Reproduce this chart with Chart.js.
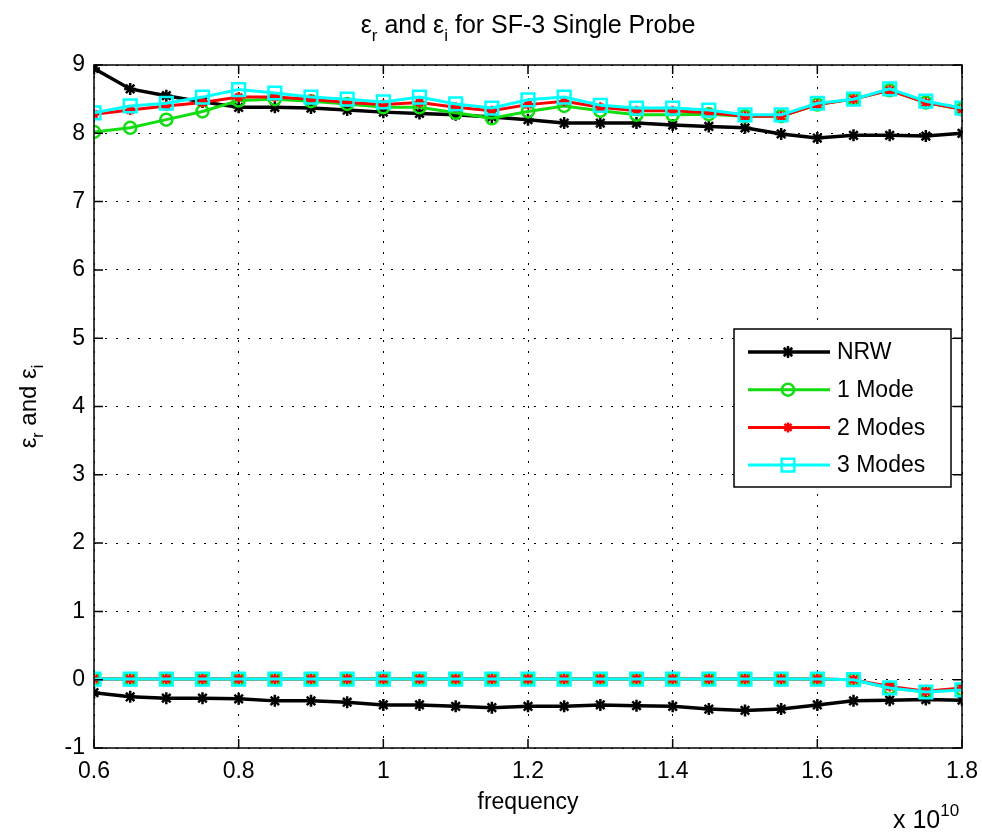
<!DOCTYPE html>
<html>
<head>
<meta charset="utf-8">
<title>SF-3 Single Probe</title>
<script src="https://cdn.jsdelivr.net/npm/chart.js@4.4.1/dist/chart.umd.min.js"></script>
<style>
    html, body { margin: 0; padding: 0; background: #fff; }
    canvas { display: block; }
</style>
</head>
<body>
<canvas id="probeChart" width="982" height="833"></canvas>
<script>
// frequency in units of 1e10 Hz
const frequency = [0.6, 0.65, 0.7, 0.75, 0.8, 0.85, 0.9, 0.95, 1.0, 1.05, 1.1, 1.15, 1.2,
                   1.25, 1.3, 1.35, 1.4, 1.45, 1.5, 1.55, 1.6, 1.65, 1.7, 1.75, 1.8];

// real part (upper curves)
const nrwReal   = [8.95, 8.65, 8.55, 8.46, 8.38, 8.38, 8.37, 8.34, 8.31, 8.29, 8.27, 8.24, 8.2,
                   8.15, 8.15, 8.15, 8.12, 8.1, 8.08, 7.99, 7.93, 7.97, 7.97, 7.96, 8.0];
const mode1Real = [8.02, 8.08, 8.2, 8.32, 8.48, 8.5, 8.47, 8.43, 8.38, 8.38, 8.3, 8.22, 8.32,
                   8.4, 8.33, 8.27, 8.27, 8.28, 8.25, 8.25, 8.42, 8.5, 8.63, 8.45, 8.35];
const mode2Real = [8.28, 8.34, 8.4, 8.45, 8.53, 8.53, 8.5, 8.45, 8.42, 8.45, 8.38, 8.33, 8.42,
                   8.47, 8.38, 8.33, 8.33, 8.3, 8.25, 8.25, 8.42, 8.5, 8.63, 8.45, 8.35];
const mode3Real = [8.3, 8.4, 8.44, 8.53, 8.64, 8.59, 8.53, 8.5, 8.46, 8.53, 8.43, 8.37, 8.49,
                   8.53, 8.41, 8.37, 8.37, 8.34, 8.27, 8.27, 8.44, 8.5, 8.65, 8.47, 8.37];

// imaginary part (lower curves)
const nrwImag   = [-0.19, -0.25, -0.27, -0.27, -0.28, -0.31, -0.31, -0.33, -0.37, -0.37, -0.39, -0.41, -0.39,
                   -0.39, -0.37, -0.38, -0.39, -0.43, -0.45, -0.43, -0.37, -0.31, -0.3, -0.29, -0.3];
const mode1Imag = [0.01, 0.01, 0.01, 0.01, 0.01, 0.01, 0.01, 0.01, 0.01, 0.01, 0.01, 0.01, 0.01,
                   0.01, 0.01, 0.01, 0.01, 0.01, 0.01, 0.01, 0.01, 0.0, -0.12, -0.18, -0.14];
const mode2Imag = [0.01, 0.01, 0.01, 0.01, 0.01, 0.01, 0.01, 0.01, 0.01, 0.01, 0.01, 0.01, 0.01,
                   0.01, 0.01, 0.01, 0.01, 0.01, 0.01, 0.01, 0.01, 0.0, -0.1, -0.17, -0.12];
const mode3Imag = [0.01, 0.01, 0.01, 0.01, 0.01, 0.01, 0.01, 0.01, 0.01, 0.01, 0.01, 0.01, 0.01,
                   0.01, 0.01, 0.01, 0.01, 0.01, 0.01, 0.01, 0.01, 0.0, -0.12, -0.18, -0.15];

const xTicks = { min: 0.6, max: 1.8, step: 0.2 };
const yTicks = { min: -1, max: 9, step: 1 };

const FONT = '"Liberation Sans", Arial, sans-serif';
const FONT_SIZE = 23;

Chart.defaults.font.family = FONT;
Chart.defaults.color = '#000';

function makeSeries(label, values, color, style, radius, width, order, inLegend) {
    return {
        label: label,
        data: frequency.map((f, i) => ({ x: f, y: values[i] })),
        borderColor: color,
        backgroundColor: color,
        borderWidth: width,
        pointStyle: style,
        pointRadius: radius,
        pointBorderColor: color,
        pointBackgroundColor: 'rgba(0,0,0,0)',
        pointBorderWidth: 2.5,
        tension: 0,
        order: order,
        inLegend: inLegend
    };
}

const datasets = [
    makeSeries('NRW', nrwReal, '#000000', 'star', 6, 3.5, 4, true),
    makeSeries('NRW', nrwImag, '#000000', 'star', 6, 3.5, 4, false),
    makeSeries('1 Mode', mode1Real, '#11dd11', 'circle', 6, 3, 3, true),
    makeSeries('1 Mode', mode1Imag, '#11dd11', 'circle', 6, 3, 3, false),
    makeSeries('2 Modes', mode2Real, '#ff0000', 'star', 5, 3, 2, true),
    makeSeries('2 Modes', mode2Imag, '#ff0000', 'star', 5, 3, 2, false),
    makeSeries('3 Modes', mode3Real, '#00ffff', 'rect', 9, 3, 1, true),
    makeSeries('3 Modes', mode3Imag, '#00ffff', 'rect', 9, 3, 1, false)
];

// text with sub/superscripts, centred on (cx, cy)
function drawRich(ctx, parts, cx, cy, size, rot, align) {
    ctx.save();
    ctx.translate(cx, cy);
    ctx.rotate(rot || 0);
    ctx.fillStyle = '#000';
    ctx.textBaseline = 'alphabetic';
    ctx.textAlign = 'left';
    const sizeOf = p => (p.sub || p.sup) ? Math.round(size * 0.68) : size;
    let total = 0;
    parts.forEach(p => {
        ctx.font = sizeOf(p) + 'px ' + FONT;
        total += ctx.measureText(p.t).width;
    });
    let x = align === 'left' ? 0 : -total / 2;
    parts.forEach(p => {
        ctx.font = sizeOf(p) + 'px ' + FONT;
        const dy = p.sub ? size * 0.3 : (p.sup ? -size * 0.5 : 0);
        ctx.fillText(p.t, x, size * 0.36 + dy);
        x += ctx.measureText(p.t).width;
    });
    ctx.restore();
}

// MATLAB style frame: box, inward ticks, legend, title
const matlabFrame = {
    id: 'matlabFrame',
    afterDatasetsDraw(chart) {
        const ctx = chart.ctx;
        const a = chart.chartArea;
        const xs = chart.scales.x, ys = chart.scales.y;
        const tick = 9;

        ctx.save();
        ctx.strokeStyle = '#000';
        ctx.lineWidth = 1.5;
        ctx.beginPath();
        xs.ticks.forEach(t => {
            const px = xs.getPixelForValue(t.value);
            ctx.moveTo(px, a.bottom); ctx.lineTo(px, a.bottom - tick);
            ctx.moveTo(px, a.top); ctx.lineTo(px, a.top + tick);
        });
        ys.ticks.forEach(t => {
            const py = ys.getPixelForValue(t.value);
            ctx.moveTo(a.left, py); ctx.lineTo(a.left + tick, py);
            ctx.moveTo(a.right, py); ctx.lineTo(a.right - tick, py);
        });
        ctx.stroke();
        ctx.strokeRect(a.left, a.top, a.right - a.left, a.bottom - a.top);

        // legend box
        const entries = chart.data.datasets.filter(ds => ds.inLegend);
        const lx = a.right - 228, ly = a.top + 264, lw = 217, lh = 158;
        ctx.fillStyle = '#fff';
        ctx.fillRect(lx, ly, lw, lh);
        ctx.lineWidth = 1.5;
        ctx.strokeStyle = '#000';
        ctx.strokeRect(lx, ly, lw, lh);
        entries.forEach((ds, i) => {
            const cy = ly + 23 + i * 37.7;
            ctx.strokeStyle = ds.borderColor;
            ctx.lineWidth = ds.borderWidth;
            ctx.beginPath();
            ctx.moveTo(lx + 14, cy);
            ctx.lineTo(lx + 96, cy);
            ctx.stroke();
            ctx.fillStyle = 'rgba(0,0,0,0)';
            ctx.lineWidth = ds.pointBorderWidth;
            Chart.helpers.drawPoint(ctx, {
                pointStyle: ds.pointStyle,
                radius: ds.pointRadius,
                rotation: 0,
                borderWidth: ds.pointBorderWidth
            }, lx + 54, cy);
            ctx.fillStyle = '#000';
            ctx.font = FONT_SIZE + 'px ' + FONT;
            ctx.textBaseline = 'middle';
            ctx.textAlign = 'left';
            ctx.fillText(ds.label, lx + 103, cy + 1);
        });
        ctx.restore();
    },
    afterDraw(chart) {
        const ctx = chart.ctx;
        const a = chart.chartArea;
        const midX = (a.left + a.right) / 2;
        drawRich(ctx, [
            { t: 'ε' }, { t: 'r', sub: true }, { t: ' and ε' }, { t: 'i', sub: true },
            { t: ' for SF-3 Single Probe' }
        ], midX, 24, 25);
        drawRich(ctx, [
            { t: 'ε' }, { t: 'r', sub: true }, { t: ' and ε' }, { t: 'i', sub: true }
        ], 27, (a.top + a.bottom) / 2, 24, -Math.PI / 2);
        drawRich(ctx, [{ t: 'x 10' }, { t: '10', sup: true }],
            a.right - 69, 819, 25, 0, 'left');
    }
};

new Chart(document.getElementById('probeChart'), {
    type: 'line',
    data: { datasets: datasets },
    options: {
        responsive: false,
        animation: false,
        layout: { padding: { top: 65, right: 20, left: 0, bottom: 0 } },
        plugins: {
            legend: { display: false },
            tooltip: { enabled: false },
            title: { display: false }
        },
        scales: {
            x: {
                type: 'linear',
                min: xTicks.min,
                max: xTicks.max,
                afterFit: scale => {
                    scale.height = 85;
                    scale.paddingLeft = 0;
                    scale.paddingRight = 0;
                },
                ticks: {
                    stepSize: xTicks.step,
                    autoSkip: false,
                    maxRotation: 0,
                    padding: 10,
                    font: { size: FONT_SIZE },
                    callback: v => String(+v.toFixed(1))
                },
                grid: { color: '#000', lineWidth: 1, drawTicks: false },
                border: { display: false, dash: [2, 9] },
                title: {
                    display: true,
                    text: 'frequency',
                    font: { size: FONT_SIZE },
                    padding: { top: 0, bottom: 17 }
                }
            },
            y: {
                type: 'linear',
                min: yTicks.min,
                max: yTicks.max,
                afterFit: scale => {
                    scale.width = 94;
                    scale.paddingTop = 0;
                    scale.paddingBottom = 0;
                },
                ticks: {
                    stepSize: yTicks.step,
                    autoSkip: false,
                    padding: 9,
                    font: { size: FONT_SIZE }
                },
                grid: { color: '#000', lineWidth: 1, drawTicks: false },
                border: { display: false, dash: [2, 9] }
            }
        }
    },
    plugins: [matlabFrame]
});
</script>
</body>
</html>
